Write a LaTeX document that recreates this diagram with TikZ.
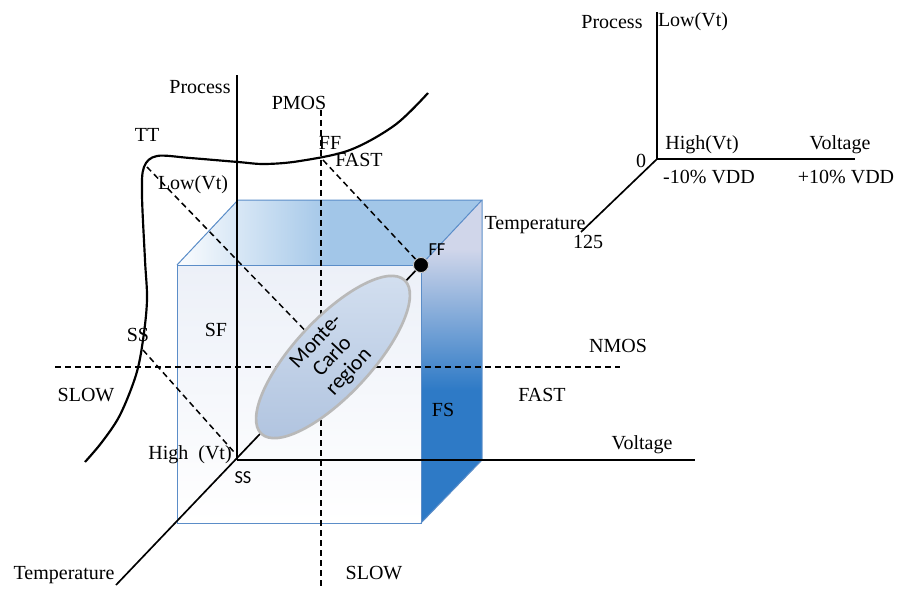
\documentclass[tikz,border=0pt]{standalone}
\usepackage{fontspec}
\setmainfont{Liberation Serif}
\newfontfamily\sansf{Carlito}
\usetikzlibrary{shapes.geometric}
\definecolor{edgeblue}{RGB}{91,141,200}
\definecolor{deepblue}{RGB}{46,122,198}
\definecolor{lightlav}{RGB}{208,214,234}
\definecolor{topblue}{RGB}{162,198,232}
\definecolor{frontblue}{RGB}{236,240,248}
\definecolor{elltop}{RGB}{212,224,240}
\definecolor{ellbot}{RGB}{178,197,224}
\begin{document}
\begin{tikzpicture}[x=0.6pt,y=-0.6pt, font=\fontsize{12}{14}\selectfont,
  lbl/.style={inner sep=0pt},
  sans/.style={font=\sansf\fontsize{11}{13}\selectfont, inner sep=0pt},
  axis/.style={line width=1pt},
  dline/.style={line width=0.9pt, dash pattern=on 3.6pt off 2.4pt},
  cubeedge/.style={draw=edgeblue, line width=0.6pt}]
\useasboundingbox (0,0) rectangle (908,590);
% cube corners
\coordinate (F1) at (177,265);
\coordinate (F2) at (421,265);
\coordinate (F3) at (421,523);
\coordinate (F4) at (177,523);
\coordinate (B1) at (238,200);
\coordinate (B2) at (482,200);
\coordinate (B3) at (482,460);
% faces
\shade[shading=axis, shading angle=135, top color=frontblue, bottom color=white] (F1) -- (F2) -- (F3) -- (F4) -- cycle;
\begin{scope}
  \clip (F1) -- (B1) -- (B2) -- (F2) -- cycle;
  \fill[topblue] (170,195) rectangle (490,270);
  \shade[left color=white, right color=topblue] (170,195) rectangle (330,270);
\end{scope}
\begin{scope}
  \clip (F2) -- (B2) -- (B3) -- (F3) -- cycle;
  \fill[deepblue] (421,195) rectangle (482,525);
  \fill[lightlav] (421,195) rectangle (482,250);
  \shade[top color=lightlav, bottom color=deepblue, middle color=lightlav!50!deepblue] (421,249) rectangle (482,390);
\end{scope}
\draw[cubeedge] (F1) -- (F2) -- (F3) -- (F4) -- cycle;
\draw[cubeedge] (F1) -- (B1) -- (B2) -- (F2);
\draw[cubeedge] (B2) -- (B3) -- (F3);
% axes
\coordinate (O) at (237,460);
\coordinate (Ptop) at (237,75);
\coordinate (Vend) at (695,460);
\coordinate (Tend) at (116,585);
\coordinate (FFd) at (421,265);
\draw[axis] (O) -- (Ptop);
\draw[axis] (O) -- (Vend);
\draw[axis] (Tend) -- (FFd);
% dashed
\coordinate (pm1) at (321,110);
\coordinate (pm2) at (321,590);
\coordinate (nm1) at (55,367);
\coordinate (nm2) at (620,367);
\coordinate (tt1) at (147,167);
\coordinate (tt2) at (322,348);
\coordinate (ss1) at (143,350);
\coordinate (ss2) at (234,452);
\coordinate (ff1) at (323,160);
\draw[dline] (pm1) -- (pm2);
\draw[dline] (nm1) -- (nm2);
\draw[dline] (tt1) -- (tt2);
\draw[dline] (ss1) -- (ss2);
\draw[dline] (ff1) -- (FFd);
% curve
\draw[line width=1.3pt] plot[smooth, tension=0.55] coordinates {(428,93) (395,125) (350,150) (300,161) (265,164) (238,162) (190,158) (157,156) (144,167) (142,195) (145,260) (147,300) (143,340) (136,375) (120,415) (102,442) (85,462)};
% ellipse
\node (mc) [ellipse, draw=gray!55, line width=1.6pt, top color=elltop, bottom color=ellbot, minimum width=126pt, minimum height=46pt, rotate=47, inner sep=0pt] at (333,357) {};
\node (mctext) [rotate=47, align=center, font=\sansf\fontsize{13}{13.5}\selectfont, inner sep=0pt] at (mc.center) {Monte-\\Carlo\\region};
\node (ffdot) [circle, fill=black, draw=gray!40, line width=0.5pt, minimum size=9pt, inner sep=0pt] at (FFd) {};
% labels
\node[lbl] (lProc) at (200,87) {Process};
\node[lbl] (lPmos) at (299,103) {PMOS};
\node[lbl] (lTT) at (147,135) {TT};
\node[lbl] (lFF) at (330,143) {FF};
\node[lbl] (lFast) at (359,160) {FAST};
\node[lbl] (lLow) at (193,185) {Low(Vt)};
\node[sans] (lFFs) at (437,250) {FF};
\node[lbl] (lTemp) at (535,225) {Temperature};
\node[lbl] (l125) at (588,242) {125};
\node[lbl] (lSF) at (216,330) {SF};
\node[lbl] (lSS) at (138,335) {SS};
\node[lbl] (lNmos) at (618,346) {NMOS};
\node[lbl] (lSlowL) at (86,395) {SLOW};
\node[lbl] (lFastR) at (542,395) {FAST};
\node[lbl] (lFS) at (443,410) {FS};
\node[lbl] (lVolt) at (642,445) {Voltage};
\node[lbl] (lHigh) at (190,455) {High\ \ (Vt)};
\node[sans] (lSSs) at (243,478) {SS};
\node[lbl] (lTempL) at (64,575) {Temperature};
\node[lbl] (lSlowB) at (374,573) {SLOW};
% mini axes
\coordinate (o2) at (657,159);
\coordinate (p2) at (657,12);
\coordinate (v2) at (855,159);
\coordinate (t2) at (581,232);
\draw[axis] (p2) -- (o2) -- (v2);
\draw[axis] (o2) -- (t2);
\node[lbl] (mProc) at (612,22) {Process};
\node[lbl] (mLow) at (693,22) {Low(Vt)};
\node[lbl] (mZero) at (641,161) {0};
\node[lbl] (mHigh) at (702,145) {High(Vt)};
\node[lbl] (mVolt) at (840,145) {Voltage};
\node[lbl] (mM10) at (709,177) {-10\% VDD};
\node[lbl] (mP10) at (846,177) {+10\% VDD};
\end{tikzpicture}
\end{document}
